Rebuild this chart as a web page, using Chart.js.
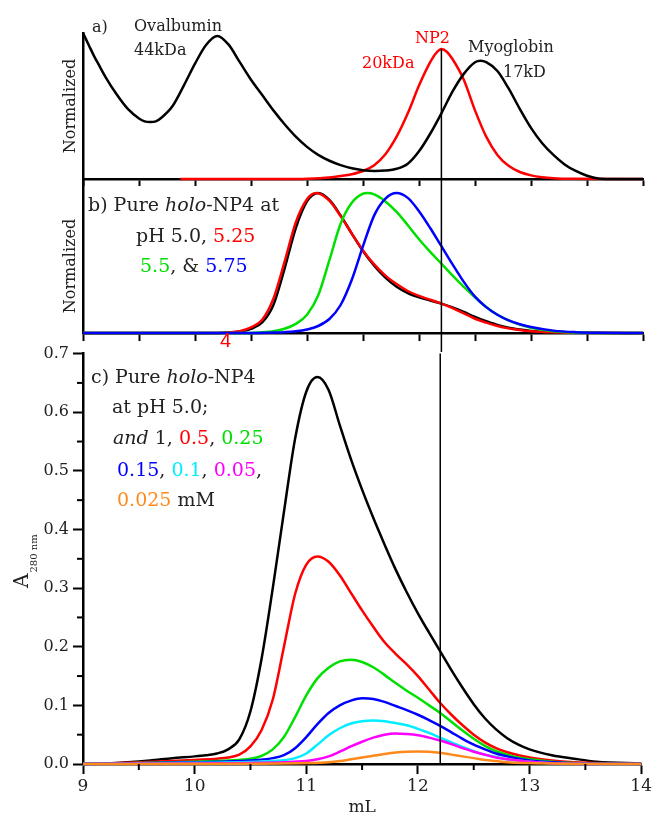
<!DOCTYPE html>
<html lang="en">
<head>
<meta charset="UTF-8">
<title>NP4 elution profiles</title>
<script src="https://cdn.jsdelivr.net/npm/chart.js"></script>
<style>
  body { margin: 0; background: #fff; }
  #wrap { position: relative; width: 654px; height: 818px; }
  canvas { position: absolute; left: 0; }
</style>
</head>
<body>
<div id="wrap">
  <canvas id="panelA" width="654" height="189" style="top:0px"></canvas>
  <canvas id="panelB" width="654" height="173" style="top:179px"></canvas>
  <canvas id="panelC" width="654" height="478" style="top:340px"></canvas>
</div>
<script>
// ---- data (elution volume in mL) ----
// a) calibration standards, normalized
const standardsX = [9.0, 9.05, 9.1, 9.15, 9.2, 9.3, 9.4, 9.5, 9.55, 9.6, 9.65, 9.7, 9.8, 9.9, 10.0, 10.1, 10.2, 10.3, 10.4, 10.5, 10.6, 10.7, 10.8, 10.9, 11.0, 11.1, 11.2, 11.3, 11.4, 11.5, 11.6, 11.7, 11.8, 11.9, 12.0, 12.1, 12.2, 12.3, 12.4, 12.5, 12.55, 12.6, 12.7, 12.8, 12.9, 13.0, 13.1, 13.2, 13.3, 13.4, 13.5, 13.6, 13.7, 14.0];
const standardsY = [1.0, 0.92, 0.84, 0.77, 0.7, 0.58, 0.48, 0.415, 0.395, 0.39, 0.395, 0.42, 0.5, 0.64, 0.79, 0.92, 0.98, 0.92, 0.8, 0.68, 0.575, 0.47, 0.375, 0.29, 0.22, 0.165, 0.125, 0.095, 0.073, 0.06, 0.055, 0.058, 0.07, 0.105, 0.19, 0.31, 0.45, 0.6, 0.72, 0.8, 0.81, 0.8, 0.74, 0.62, 0.48, 0.35, 0.245, 0.165, 0.1, 0.055, 0.022, 0.003, 0, 0];
const np2X = [9.87, 10.8, 11.0, 11.2, 11.3, 11.4, 11.5, 11.6, 11.7, 11.8, 11.9, 12.0, 12.1, 12.15, 12.2, 12.25, 12.3, 12.4, 12.5, 12.6, 12.7, 12.8, 12.9, 13.0, 13.1, 13.2, 13.35, 14.0];
const np2Y = [0, 0, 0.002, 0.01, 0.02, 0.033, 0.055, 0.095, 0.17, 0.29, 0.45, 0.64, 0.8, 0.86, 0.89, 0.87, 0.82, 0.68, 0.47, 0.29, 0.165, 0.09, 0.048, 0.025, 0.012, 0.005, 0.001, 0];

// b) holo-NP4 at different pH, normalized
const ph500X = [9.0, 10.2, 10.3, 10.4, 10.5, 10.6, 10.7, 10.8, 10.9, 11.0, 11.1, 11.2, 11.3, 11.4, 11.5, 11.6, 11.7, 11.8, 11.9, 12.0, 12.1, 12.2, 12.3, 12.4, 12.5, 12.6, 12.7, 12.8, 12.9, 13.0, 13.2, 13.5, 14.0];
const ph500Y = [0, 0, 0.003, 0.01, 0.03, 0.075, 0.2, 0.46, 0.75, 0.94, 1.0, 0.95, 0.84, 0.71, 0.585, 0.48, 0.395, 0.33, 0.285, 0.255, 0.232, 0.21, 0.183, 0.15, 0.115, 0.085, 0.058, 0.038, 0.025, 0.015, 0.006, 0.001, 0];
const ph525X = [9.0, 10.2, 10.3, 10.4, 10.5, 10.6, 10.7, 10.8, 10.9, 11.0, 11.08, 11.2, 11.3, 11.4, 11.5, 11.6, 11.7, 11.8, 11.9, 12.0, 12.1, 12.2, 12.3, 12.4, 12.5, 12.6, 12.7, 12.8, 12.9, 13.0, 13.2, 13.5, 14.0];
const ph525Y = [0, 0, 0.004, 0.013, 0.04, 0.095, 0.245, 0.51, 0.79, 0.955, 1.0, 0.945, 0.835, 0.71, 0.59, 0.49, 0.41, 0.35, 0.3, 0.265, 0.238, 0.21, 0.178, 0.14, 0.102, 0.074, 0.05, 0.033, 0.021, 0.013, 0.005, 0.001, 0];
const ph550X = [9.0, 10.5, 10.6, 10.7, 10.8, 10.9, 11.0, 11.1, 11.2, 11.3, 11.4, 11.5, 11.54, 11.6, 11.7, 11.8, 11.9, 12.0, 12.1, 12.2, 12.3, 12.4, 12.5, 12.6, 12.7, 12.8, 12.9, 13.0, 13.2, 13.5, 14.0];
const ph550Y = [0, 0, 0.005, 0.012, 0.03, 0.065, 0.13, 0.27, 0.52, 0.78, 0.93, 0.995, 1.0, 0.99, 0.94, 0.865, 0.77, 0.67, 0.58, 0.495, 0.41, 0.33, 0.255, 0.185, 0.13, 0.09, 0.06, 0.038, 0.013, 0.002, 0];
const ph575X = [9.0, 10.5, 10.7, 10.8, 10.9, 11.0, 11.1, 11.2, 11.3, 11.4, 11.5, 11.6, 11.7, 11.8, 11.9, 12.0, 12.1, 12.2, 12.3, 12.4, 12.5, 12.6, 12.7, 12.8, 12.9, 13.0, 13.2, 13.4, 13.6, 14.0];
const ph575Y = [0, 0, 0.003, 0.006, 0.012, 0.025, 0.05, 0.1, 0.2, 0.38, 0.62, 0.84, 0.96, 1.0, 0.965, 0.87, 0.75, 0.62, 0.49, 0.365, 0.26, 0.185, 0.13, 0.09, 0.063, 0.043, 0.017, 0.006, 0.002, 0];

// c) holo-NP4 at pH 5.0, absorbance at 280 nm, by concentration (mM)
const c1X = [9.0, 9.2, 9.4, 9.6, 9.8, 10.0, 10.1, 10.2, 10.3, 10.4, 10.5, 10.6, 10.7, 10.8, 10.9, 11.0, 11.1, 11.2, 11.3, 11.4, 11.5, 11.6, 11.7, 11.8, 11.9, 12.0, 12.1, 12.2, 12.3, 12.4, 12.5, 12.6, 12.7, 12.8, 12.9, 13.0, 13.2, 13.4, 13.6, 14.0];
const c1Y = [0, 0.001, 0.003, 0.006, 0.01, 0.013, 0.015, 0.018, 0.025, 0.042, 0.09, 0.18, 0.3, 0.43, 0.555, 0.635, 0.66, 0.638, 0.578, 0.52, 0.468, 0.42, 0.375, 0.332, 0.293, 0.257, 0.224, 0.192, 0.16, 0.13, 0.102, 0.078, 0.059, 0.044, 0.033, 0.025, 0.015, 0.009, 0.004, 0.001];
const c05X = [9.0, 9.4, 9.8, 10.0, 10.2, 10.3, 10.4, 10.5, 10.6, 10.7, 10.8, 10.9, 11.0, 11.1, 11.2, 11.3, 11.4, 11.5, 11.6, 11.7, 11.8, 11.9, 12.0, 12.1, 12.2, 12.3, 12.4, 12.5, 12.6, 12.7, 12.8, 12.9, 13.0, 13.2, 13.4, 13.7, 14.0];
const c05Y = [0, 0.002, 0.005, 0.007, 0.009, 0.011, 0.016, 0.03, 0.058, 0.11, 0.2, 0.29, 0.34, 0.354, 0.345, 0.322, 0.292, 0.262, 0.234, 0.208, 0.188, 0.17, 0.15, 0.127, 0.104, 0.084, 0.066, 0.05, 0.037, 0.027, 0.02, 0.015, 0.011, 0.006, 0.003, 0.001, 0];
const c025X = [9.0, 9.6, 10.0, 10.3, 10.5, 10.6, 10.7, 10.8, 10.9, 11.0, 11.1, 11.2, 11.3, 11.4, 11.5, 11.6, 11.7, 11.8, 11.9, 12.0, 12.1, 12.2, 12.3, 12.4, 12.5, 12.6, 12.7, 12.8, 12.9, 13.0, 13.2, 13.5, 14.0];
const c025Y = [0, 0.002, 0.004, 0.006, 0.009, 0.014, 0.025, 0.046, 0.08, 0.117, 0.146, 0.164, 0.175, 0.178, 0.174, 0.165, 0.152, 0.138, 0.125, 0.113, 0.1, 0.087, 0.072, 0.057, 0.043, 0.031, 0.022, 0.016, 0.011, 0.008, 0.004, 0.001, 0];
const c015X = [9.0, 10.0, 10.5, 10.7, 10.8, 10.9, 11.0, 11.1, 11.2, 11.3, 11.4, 11.5, 11.6, 11.7, 11.8, 11.9, 12.0, 12.1, 12.2, 12.3, 12.4, 12.5, 12.6, 12.7, 12.8, 12.9, 13.0, 13.2, 13.5, 14.0];
const c015Y = [0, 0.003, 0.006, 0.01, 0.015, 0.027, 0.046, 0.068, 0.087, 0.1, 0.108, 0.112, 0.111, 0.106, 0.099, 0.092, 0.084, 0.075, 0.065, 0.054, 0.043, 0.033, 0.025, 0.018, 0.013, 0.009, 0.006, 0.003, 0.001, 0];
const c01X = [9.0, 10.0, 10.7, 10.9, 11.0, 11.1, 11.2, 11.3, 11.4, 11.5, 11.6, 11.7, 11.8, 11.9, 12.0, 12.1, 12.2, 12.3, 12.4, 12.5, 12.6, 12.7, 12.8, 12.9, 13.0, 13.3, 14.0];
const c01Y = [0, 0.002, 0.005, 0.01, 0.018, 0.033, 0.049, 0.061, 0.069, 0.073, 0.074, 0.073, 0.07, 0.066, 0.06, 0.053, 0.045, 0.037, 0.029, 0.022, 0.016, 0.012, 0.008, 0.006, 0.004, 0.001, 0];
const c005X = [9.0, 10.0, 10.8, 11.0, 11.1, 11.2, 11.3, 11.4, 11.5, 11.6, 11.7, 11.8, 11.9, 12.0, 12.1, 12.2, 12.3, 12.4, 12.5, 12.6, 12.7, 12.8, 12.9, 13.0, 13.3, 14.0];
const c005Y = [0, 0.001, 0.003, 0.005, 0.008, 0.013, 0.021, 0.03, 0.038, 0.045, 0.05, 0.052, 0.051, 0.049, 0.045, 0.04, 0.034, 0.027, 0.021, 0.016, 0.011, 0.008, 0.006, 0.004, 0.001, 0];
const c0025X = [9.0, 10.5, 11.0, 11.2, 11.3, 11.4, 11.5, 11.6, 11.7, 11.8, 11.9, 12.0, 12.1, 12.2, 12.3, 12.4, 12.5, 12.6, 12.7, 12.8, 13.0, 13.3, 14.0];
const c0025Y = [0, 0.0005, 0.0015, 0.003, 0.005, 0.008, 0.011, 0.014, 0.017, 0.0195, 0.021, 0.0215, 0.021, 0.019, 0.016, 0.013, 0.01, 0.007, 0.005, 0.003, 0.0015, 0.0005, 0];

const xTicksC = [9, 10, 11, 12, 13, 14];
const MARKER_ML = 12.2;   // NP2 peak, drawn through all three panels

const INK = '#222';
const SERIF = '"DejaVu Serif", serif';
const RED = '#ff0000', GREEN = '#00e000', BLUE = '#0000ff', CYAN = '#00eeff', MAGENTA = '#ff00ff', ORANGE = '#ff8a1c';

Chart.defaults.font.family = SERIF;
Chart.defaults.color = INK;
Chart.defaults.animation = false;
Chart.defaults.responsive = false;
Chart.defaults.plugins.legend.display = false;
Chart.defaults.plugins.tooltip.enabled = false;

function pts(xs, ys) { return xs.map((x, i) => ({ x: x, y: ys[i] })); }
function line(xs, ys, color, order) {
    return { data: pts(xs, ys), borderColor: color, borderWidth: 2.5, pointRadius: 0,
             cubicInterpolationMode: 'monotone', fill: false, order: order, clip: false };
}

// vertical line at the NP2 elution volume
const guideLine = {
    id: 'guideLine',
    afterDatasetsDraw(chart, args, opts) {
        const { ctx, chartArea, scales } = chart;
        const x = scales.x.getPixelForValue(opts.value);
        const top = opts.fromValue !== undefined ? scales.y.getPixelForValue(opts.fromValue) : chartArea.top;
        const bottom = opts.toEdge ? chart.height : chartArea.bottom;
        ctx.save();
        ctx.strokeStyle = '#000';
        ctx.lineWidth = 1.5;
        ctx.beginPath(); ctx.moveTo(x, top); ctx.lineTo(x, bottom); ctx.stroke();
        ctx.restore();
    }
};

// short ticks half way between the library's major ticks
const minorTicks = {
    id: 'minorTicks',
    afterDraw(chart, args, opts) {
        if (!opts.length) return;
        const ctx = chart.ctx;
        ctx.save();
        ctx.strokeStyle = '#000';
        ctx.lineWidth = 2;
        ['x', 'y'].forEach(id => {
            const s = chart.scales[id];
            const t = s.ticks.map(k => k.value);
            for (let i = 0; i < t.length - 1; i++) {
                const p = s.getPixelForValue((t[i] + t[i + 1]) / 2);
                ctx.beginPath();
                if (id === 'x') { ctx.moveTo(p, s.top); ctx.lineTo(p, s.top + opts.length); }
                else { ctx.moveTo(s.right, p); ctx.lineTo(s.right - opts.length, p); }
                ctx.stroke();
            }
        });
        ctx.restore();
    }
};

// multi-colour labels and rotated axis titles
const richText = {
    id: 'richText',
    afterDraw(chart, args, opts) {
        const ctx = chart.ctx;
        ctx.save();
        ctx.textBaseline = 'alphabetic';
        ctx.textAlign = 'left';
        (opts.lines || []).forEach(l => {
            let x = l.x;
            l.parts.forEach(([text, color, style]) => {
                ctx.font = (style === 'i' ? 'italic ' : '') + l.size + 'px ' + (l.family || SERIF);
                ctx.fillStyle = color || INK;
                ctx.fillText(text, x, l.y);
                x += ctx.measureText(text).width;
            });
        });
        if (opts.sideTitle) {
            const t = opts.sideTitle;
            ctx.save();
            ctx.translate(t.x, t.y);
            ctx.rotate(-Math.PI / 2);
            ctx.textAlign = 'center';
            ctx.textBaseline = 'middle';
            ctx.font = t.size + 'px ' + SERIF;
            ctx.fillStyle = INK;
            ctx.fillText(t.text, 0, 0);
            ctx.restore();
        }
        if (opts.yTitle) {
            const t = opts.yTitle;
            ctx.translate(t.x, t.y);
            ctx.rotate(-Math.PI / 2);
            ctx.fillStyle = INK;
            ctx.font = '20px ' + SERIF;
            ctx.fillText(t.main, 0, 0);
            const w = ctx.measureText(t.main).width;
            ctx.font = '10px ' + SERIF;
            ctx.fillText(t.sub, w + 1, 9);
        }
        ctx.restore();
    }
};

function xAxis(height, tickLen, showLabels, step) {
    return {
        type: 'linear', min: 9, max: 14, position: 'bottom',
        afterFit: s => { s.height = height; },
        border: { display: true, width: 2.5, color: '#000' },
        grid: { display: true, drawOnChartArea: false, drawTicks: true, tickLength: tickLen, tickWidth: 2, tickColor: '#000' },
        ticks: { display: showLabels, stepSize: step, padding: 2, font: { size: 17 }, color: INK, maxRotation: 0 }
    };
}
function hiddenY(max, withTitle) {
    return {
        min: 0, max: max,
        afterFit: s => { s.width = 83; },
        border: { display: true, width: 2.5, color: '#000' },
        grid: { display: false },
        ticks: { display: false },
        title: { display: withTitle, text: 'Normalized', font: { size: 16 }, color: INK, padding: { top: 61, bottom: 0 } }
    };
}

// ---- panel a ----
new Chart(document.getElementById('panelA'), {
    type: 'line',
    data: { datasets: [ line(standardsX, standardsY, '#000', 0), line(np2X, np2Y, RED, 1) ] },
    options: {
        layout: { padding: { top: 33, right: 11, left: 0, bottom: 0 } },
        scales: { x: xAxis(10, 7, false, 0.5), y: hiddenY(1.0, true) },
        plugins: {
            guideLine: { value: MARKER_ML, fromValue: Math.max(...np2Y) },
            richText: { lines: [
                { x: 92, y: 32, size: 16, parts: [['a)']] },
                { x: 134, y: 31, size: 16, parts: [['Ovalbumin']] },
                { x: 134, y: 55, size: 16, parts: [['44kDa']] },
                { x: 415, y: 43, size: 16, parts: [['NP2', RED]] },
                { x: 362, y: 68, size: 16, parts: [['20kDa', RED]] },
                { x: 468, y: 52, size: 16, parts: [['Myoglobin']] },
                { x: 503, y: 77, size: 16, parts: [['17kD']] }
            ] }
        }
    },
    plugins: [guideLine, richText]
});

// ---- panel b ----
new Chart(document.getElementById('panelB'), {
    type: 'line',
    data: { datasets: [
        line(ph500X, ph500Y, '#000', 4),
        line(ph525X, ph525Y, RED, 3),
        line(ph550X, ph550Y, GREEN, 2),
        line(ph575X, ph575Y, BLUE, 1)
    ] },
    options: {
        layout: { padding: { top: 0, right: 11, left: 0, bottom: 0 } },
        scales: { x: xAxis(19, 8, false, 0.5), y: hiddenY(1.1, false) },
        plugins: {
            guideLine: { value: MARKER_ML, toEdge: true },
            richText: {
                lines: [
                    { x: 88, y: 32, size: 19, parts: [['b) Pure '], ['holo', INK, 'i'], ['-NP4 at']] },
                    { x: 136, y: 63, size: 19, parts: [['pH 5.0, '], ['5.25', RED]] },
                    { x: 140, y: 93, size: 19, parts: [['5.5', GREEN], [', & '], ['5.75', BLUE]] },
                    { x: 220, y: 168, size: 20, family: '"Liberation Sans", sans-serif', parts: [['4', RED]] }
                ],
                sideTitle: { x: 71, y: 87, size: 16, text: 'Normalized' }
            }
        }
    },
    plugins: [guideLine, richText]
});

// ---- panel c ----
const concSeries = [
    [c1X, c1Y, '#000'], [c05X, c05Y, RED], [c025X, c025Y, GREEN], [c015X, c015Y, BLUE],
    [c01X, c01Y, CYAN], [c005X, c005Y, MAGENTA], [c0025X, c0025Y, ORANGE]
];
new Chart(document.getElementById('panelC'), {
    type: 'line',
    data: { datasets: concSeries.map((s, i) => line(s[0], s[1], s[2], concSeries.length - i)) },
    options: {
        layout: { padding: { top: 12, right: 11, left: 0, bottom: 0 } },
        scales: {
            x: Object.assign(xAxis(54, 10, true, 1), {
                title: { display: true, text: 'mL', font: { size: 17, lineHeight: 1.2 }, color: INK, padding: { top: 0, bottom: 0 } },
                afterBuildTicks: s => { s.ticks = xTicksC.map(v => ({ value: v })); }
            }),
            y: {
                min: 0, max: 0.7,
                afterFit: s => { s.width = 83; },
                border: { display: true, width: 2.5, color: '#000' },
                grid: { display: true, drawOnChartArea: false, drawTicks: true, tickLength: 10, tickWidth: 2, tickColor: '#000' },
                ticks: { stepSize: 0.1, padding: 4, font: { size: 16 }, color: INK, callback: v => v.toFixed(1) }
            }
        },
        plugins: {
            guideLine: { value: MARKER_ML },
            minorTicks: { length: 6 },
            richText: {
                lines: [
                    { x: 91, y: 43, size: 19, parts: [['c) Pure '], ['holo', INK, 'i'], ['-NP4']] },
                    { x: 112, y: 73, size: 19, parts: [['at pH 5.0;']] },
                    { x: 113, y: 104, size: 19, parts: [['and', INK, 'i'], [' 1, '], ['0.5', RED], [', '], ['0.25', GREEN]] },
                    { x: 117, y: 136, size: 19, parts: [['0.15', BLUE], [', '], ['0.1', CYAN], [', '], ['0.05', MAGENTA], [',']] },
                    { x: 117, y: 166, size: 19, parts: [['0.025', ORANGE], [' mM']] }
                ],
                yTitle: { x: 28, y: 248, main: 'A', sub: '280 nm' }
            }
        }
    },
    plugins: [guideLine, minorTicks, richText]
});
</script>
</body>
</html>
